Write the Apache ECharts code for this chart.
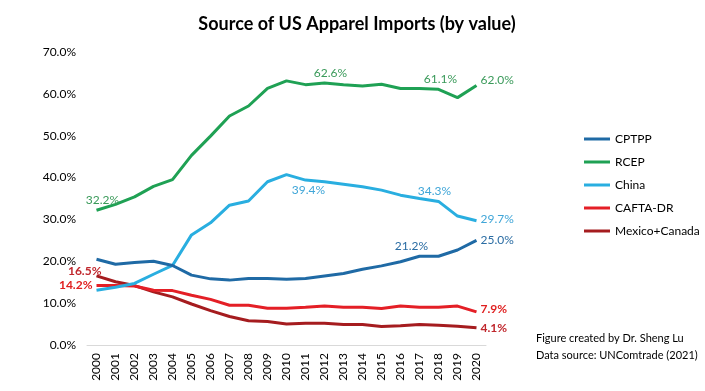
<!DOCTYPE html>
<html><head><meta charset="utf-8">
<script src="https://cdn.jsdelivr.net/npm/echarts@6/dist/echarts.min.js"></script>
<style>html,body{margin:0;padding:0;background:#fff}#c{width:705px;height:391px}</style>
</head><body><div id="c"></div>
<script>
var years = ['2000','2001','2002','2003','2004','2005','2006','2007','2008','2009','2010','2011','2012','2013','2014','2015','2016','2017','2018','2019','2020'];
var seriesNames = ['CPTPP','RCEP','China','CAFTA-DR','Mexico+Canada'];
var cptpp = [20.5,19.3,19.7,20.0,19.0,16.7,15.8,15.5,15.9,15.9,15.7,15.9,16.5,17.1,18.1,18.9,19.9,21.2,21.2,22.7,25.0];
var rcep = [32.2,33.6,35.4,37.9,39.5,45.3,49.9,54.7,57.1,61.3,63.1,62.2,62.6,62.2,61.9,62.3,61.3,61.3,61.1,59.1,62.0];
var china = [13.1,13.8,14.7,16.9,19.0,26.3,29.2,33.4,34.4,39.0,40.7,39.4,39.0,38.4,37.8,37.0,35.8,35.0,34.3,30.8,29.7];
var cafta = [14.2,14.2,14.1,13.1,13.0,11.9,10.9,9.5,9.5,8.8,8.8,9.0,9.3,9.0,9.0,8.7,9.3,9.0,9.0,9.3,7.9];
var mexcan = [16.5,15.1,14.2,12.7,11.5,9.8,8.2,6.8,5.8,5.6,5.0,5.2,5.2,4.9,4.9,4.4,4.6,4.9,4.7,4.5,4.1];
var yTicks = [0,10,20,30,40,50,60,70];

var values = [cptpp, rcep, china, cafta, mexcan];
var colors = ['#1f6aa5','#1fa154','#29aee0','#e41f26','#a51c1f'];
var labelColors = ['#2a6ca3','#3a9a5a','#40a6d8','#e02020','#c0272d'];
var font = 'Lato, "Open Sans", sans-serif';

// which points carry a data label (series index, point index, placement)
var labelled = [
  [0,17,'top',[-8,0],false],[0,20,'right',[0,0],false],
  [1,0,'top',[6,0],false],[1,12,'top',[6,0],false],[1,18,'top',[2,0],false],[1,20,'right',[0,-5],false],
  [2,11,'bottom',[3,0],false],[2,18,'top',[-4,0],false],[2,20,'right',[0,-2],false],
  [3,0,'left',[0,0],true],[3,20,'right',[0,-3],true],
  [4,0,'left',[9,-5],true],[4,20,'right',[0,0],true]
];

function buildData(si){
  return values[si].map(function(v,i){
    var d = {value:v};
    labelled.forEach(function(l){
      if(l[0]===si && l[1]===i){
        d.label = {show:true, position:l[2], offset:l[3], distance:4,
          color:labelColors[si], fontSize:12, fontWeight:l[4]?'bold':'normal', fontFamily:font,
          formatter:function(p){return p.value.toFixed(1)+'%';}};
      }
    });
    return d;
  });
}

var chart = echarts.init(document.getElementById('c'));
chart.setOption({
  animation:false,
  title:{text:'Source of US Apparel Imports (by value)', left:352, top:10, textAlign:'center',
    textStyle:{fontFamily:font, fontSize:18, fontWeight:'bold', color:'#000'}},
  grid:{left:87, right:219, top:52, bottom:46},
  legend:{orient:'vertical', left:579, top:128, itemWidth:26, itemHeight:3, itemGap:11, icon:'rect',
    data:seriesNames, textStyle:{fontFamily:font, fontSize:12, color:'#000'}},
  xAxis:{type:'category', data:years, boundaryGap:true,
    axisLine:{lineStyle:{color:'#d9d9d9', width:1}}, axisTick:{show:false},
    axisLabel:{rotate:90, color:'#000', fontSize:12, fontFamily:font, margin:8, interval:0}},
  yAxis:{type:'value', min:yTicks[0], max:yTicks[yTicks.length-1], interval:10,
    splitLine:{show:false}, axisLine:{show:false}, axisTick:{show:false},
    axisLabel:{color:'#000', fontSize:12, fontFamily:font, margin:11,
      formatter:function(v){return v.toFixed(1)+'%';}}},
  graphic:[
    {type:'text', left:536, top:330, style:{text:'Figure created by Dr. Sheng Lu\nData source: UNComtrade (2021)',
      fontFamily:font, fontSize:11, fill:'#000', lineHeight:17}}
  ],
  series: seriesNames.map(function(n,si){
    return {name:n, type:'line', data:buildData(si), symbol:'circle', symbolSize:0, showSymbol:true,
      lineStyle:{color:colors[si], width:3}, itemStyle:{color:colors[si]}, z: 10-si};
  })
});
</script></body></html>
